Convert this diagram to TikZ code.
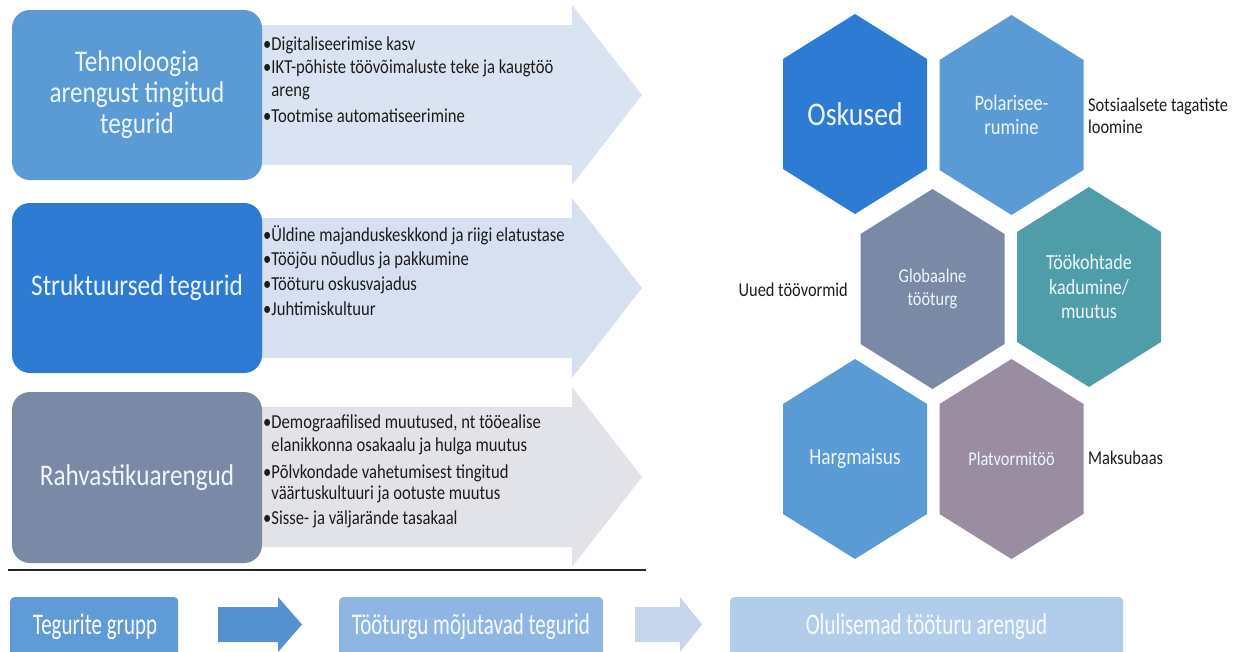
\documentclass[tikz,border=0pt]{standalone}
\usepackage{fontspec}
\setmainfont{Carlito}[FakeStretch=0.84]
\newfontfamily\legendfont{Carlito}[FakeStretch=0.70]
\newcommand{\fs}[2]{\fontsize{#1}{#2}\selectfont}

\definecolor{techblue}{HTML}{5B9BD5}
\definecolor{structblue}{HTML}{2E7BD4}
\definecolor{popgrey}{HTML}{7A8AA6}
\definecolor{tealhex}{HTML}{4F9DA8}
\definecolor{mauvehex}{HTML}{9A8DA2}
\definecolor{arrowA}{HTML}{DAE3F1}
\definecolor{arrowB}{HTML}{D6E0F0}
\definecolor{arrowC}{HTML}{E1E3E9}
\definecolor{lgbox1}{HTML}{5F9BD6}
\definecolor{lgarrow1}{HTML}{5591D0}
\definecolor{lgbox2}{HTML}{8FB6E3}
\definecolor{lgarrow2}{HTML}{C7D6EC}
\definecolor{lgbox3}{HTML}{B2CDEA}
\definecolor{paletext}{HTML}{EEF6FC}
\definecolor{bodytext}{HTML}{1C1C1C}

\tikzset{
  groupbox/.style={rounded corners=18pt, minimum width=250pt, minimum height=170pt,
    inner sep=0pt, align=center, text=paletext, font=\fs{30}{31}},
  bullet/.style={anchor=base west, inner sep=0pt, text=bodytext, font=\fs{19.8}{22}},
  hextext/.style={align=center, inner sep=0pt, text=paletext},
  sidelabel/.style={inner sep=0pt, text=bodytext, font=\fs{19.5}{22}},
  legendbox/.style={rounded corners=4pt, inner sep=0pt, font=\legendfont\fs{30}{32}},
}

% fat arrow behind a group box: centre line y, fill colour
\newcommand{\fatarrow}[2]{%
  \fill[#2] (255,#1-70) -- (572,#1-70) -- (572,#1-90) -- (642,#1)
    -- (572,#1+90) -- (572,#1+70) -- (255,#1+70) -- cycle;}

% stretched pointy-top hexagon with its label: name, x, y, fill, font, text
\newcommand{\hexcell}[6]{%
  \fill[#4] (#2,#3) ++(0,-100) -- ++(72,45) -- ++(0,110) -- ++(-72,45)
    -- ++(-72,-45) -- ++(0,-110) -- cycle;
  \node[hextext, font=#5] (#1) at (#2,#3) {#6};}

\begin{document}
\begin{tikzpicture}[x=1pt,y=-1pt]
\useasboundingbox (0,0) rectangle (1242,651);
\clip (0,0) rectangle (1242,651);

% ---- factor arrows ----
\fatarrow{95}{arrowA}
\fatarrow{288}{arrowB}
\fatarrow{477}{arrowC}

% ---- factor groups ----
\node[groupbox, fill=techblue] (tech) at (137,95)
  {Tehnoloogia\\arengust tingitud\\tegurid};
\node[groupbox, fill=structblue] (struct) at (137,288) {Struktuursed tegurid};
\node[groupbox, fill=popgrey, minimum height=171pt] (pop) at (137,477.5) {Rahvastikuarengud};

% ---- factor lists ----
\node[bullet] (t1) at (263,50.5) {•Digitaliseerimise kasv};
\node[bullet] (t2) at (263,73.5) {•IKT-põhiste töövõimaluste teke ja kaugtöö};
\node[bullet] (t3) at (263,96.5) {\hphantom{•}areng};
\node[bullet] (t4) at (263,122) {•Tootmise automatiseerimine};

\node[bullet] (s1) at (263,241.5) {•Üldine majanduskeskkond ja riigi elatustase};
\node[bullet] (s2) at (263,265.5) {•Tööjõu nõudlus ja pakkumine};
\node[bullet] (s3) at (263,290.5) {•Tööturu oskusvajadus};
\node[bullet] (s4) at (263,315.5) {•Juhtimiskultuur};

\node[bullet] (p1) at (263,428.5) {•Demograafilised muutused, nt tööealise};
\node[bullet] (p2) at (263,451.5) {\hphantom{•}elanikkonna osakaalu ja hulga muutus};
\node[bullet] (p3) at (263,478.5) {•Põlvkondade vahetumisest tingitud};
\node[bullet] (p4) at (263,499.5) {\hphantom{•}väärtuskultuuri ja ootuste muutus};
\node[bullet] (p5) at (263,524.5) {•Sisse- ja väljarände tasakaal};

% ---- separator ----
\coordinate (sepL) at (8,570);
\coordinate (sepR) at (646,570);
\draw[line width=2pt, black!85] (sepL) -- (sepR);

% ---- key developments ----
\hexcell{osk}{855}{114}{structblue}{\fs{33}{34}}{Oskused}
\hexcell{pol}{1011.5}{115}{techblue}{\fs{22}{24}}{Polarisee-\\rumine}
\hexcell{glob}{932.5}{289}{popgrey}{\fs{19.5}{23}}{Globaalne\\tööturg}
\hexcell{too}{1089}{287}{tealhex}{\fs{21.5}{24.5}}{Töökohtade\\kadumine/\\muutus}
\hexcell{harg}{855}{459}{techblue}{\fs{23}{24}}{Hargmaisus}
\hexcell{plat}{1011.5}{459}{mauvehex}{\fs{19.5}{22}}{Platvormitöö}

\node[sidelabel, anchor=west, align=left] (sots) at (1088,116)
  {Sotsiaalsete tagatiste\\loomine};
\node[sidelabel, anchor=east] (uued) at (848,290) {Uued töövormid};
\node[sidelabel, anchor=west] (maks) at (1088,458) {Maksubaas};

% ---- key ----
\node[legendbox, fill=lgbox1, minimum width=168pt, minimum height=70pt,
  anchor=north west] (lg1) at (10,597) {};
\node[legendbox, text=white] (lg1t) at (95,627) {Tegurite grupp};
\fill[lgarrow1] (218,607) -- (278,607) -- (278,597) -- (302,624.5)
  -- (278,652) -- (278,642) -- (218,642) -- cycle;
\node[legendbox, fill=lgbox2, minimum width=264pt, minimum height=70pt,
  anchor=north west] (lg2) at (339,597) {};
\node[legendbox, text=white!93!lgbox2] (lg2t) at (471,627) {Tööturgu mõjutavad tegurid};
\fill[lgarrow2] (635,607) -- (680,607) -- (680,597) -- (702,624.5)
  -- (680,652) -- (680,642) -- (635,642) -- cycle;
\node[legendbox, fill=lgbox3, minimum width=393pt, minimum height=70pt,
  anchor=north west] (lg3) at (730,597) {};
\node[legendbox, text=white!90!lgbox3] (lg3t) at (926.5,627) {Olulisemad tööturu arengud};
\end{tikzpicture}
\end{document}
